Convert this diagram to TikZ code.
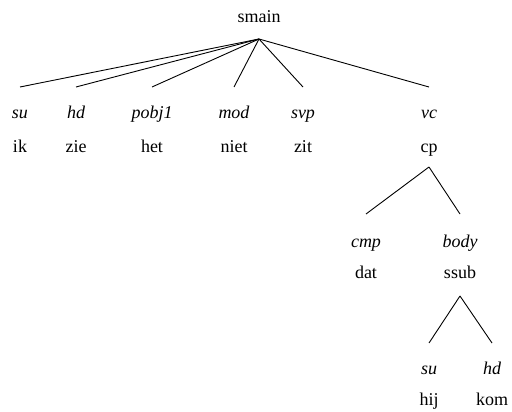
\documentclass[tikz,border=0pt]{standalone}
\usepackage{fontspec}
\setmainfont{Liberation Serif}

\begin{document}
\begin{tikzpicture}[x=1pt,y=-1pt,
    word/.style={anchor=base,inner sep=0pt,font=\fontsize{18}{21}\selectfont},
    rel/.style={word,font=\fontsize{18}{21}\selectfont\itshape},
    edge/.style={line width=0.9pt}]
	\useasboundingbox (0,0) rectangle (512,412);
	\node[word] (smain) at (259,23) {smain};
	\node[rel] (su) at (20,118) {su};
	\node[word] (ik) at (20,152) {ik};
	\node[rel] (hd) at (76,118) {hd};
	\node[word] (zie) at (76,152) {zie};
	\node[rel] (pobj1) at (152,118) {pobj1};
	\node[word] (het) at (152,152) {het};
	\node[rel] (mod) at (234,118) {mod};
	\node[word] (niet) at (234,152) {niet};
	\node[rel] (svp) at (303,118) {svp};
	\node[word] (zit) at (303,152) {zit};
	\node[rel] (vc) at (429,118) {vc};
	\node[word] (cp) at (429,152) {cp};
	\node[rel] (cmp) at (366,247) {cmp};
	\node[word] (dat) at (366,278) {dat};
	\node[rel] (body) at (460,247) {body};
	\node[word] (ssub) at (460,278) {ssub};
	\node[rel] (su2) at (429,374) {su};
	\node[word] (hij) at (429,405) {hij};
	\node[rel] (hd2) at (492,374) {hd};
	\node[word] (kom) at (492,405) {kom};
	\foreach \c in {su,hd,pobj1,mod,svp,vc}
		\draw[edge] ([yshift=-16pt]smain.base) -- ([yshift=31pt]\c.base);
	\foreach \c in {cmp,body}
		\draw[edge] ([yshift=-15pt]cp.base) -- ([yshift=33pt]\c.base);
	\foreach \c in {su2,hd2}
		\draw[edge] ([yshift=-18pt]ssub.base) -- ([yshift=31pt]\c.base);
\end{tikzpicture}
\end{document}
